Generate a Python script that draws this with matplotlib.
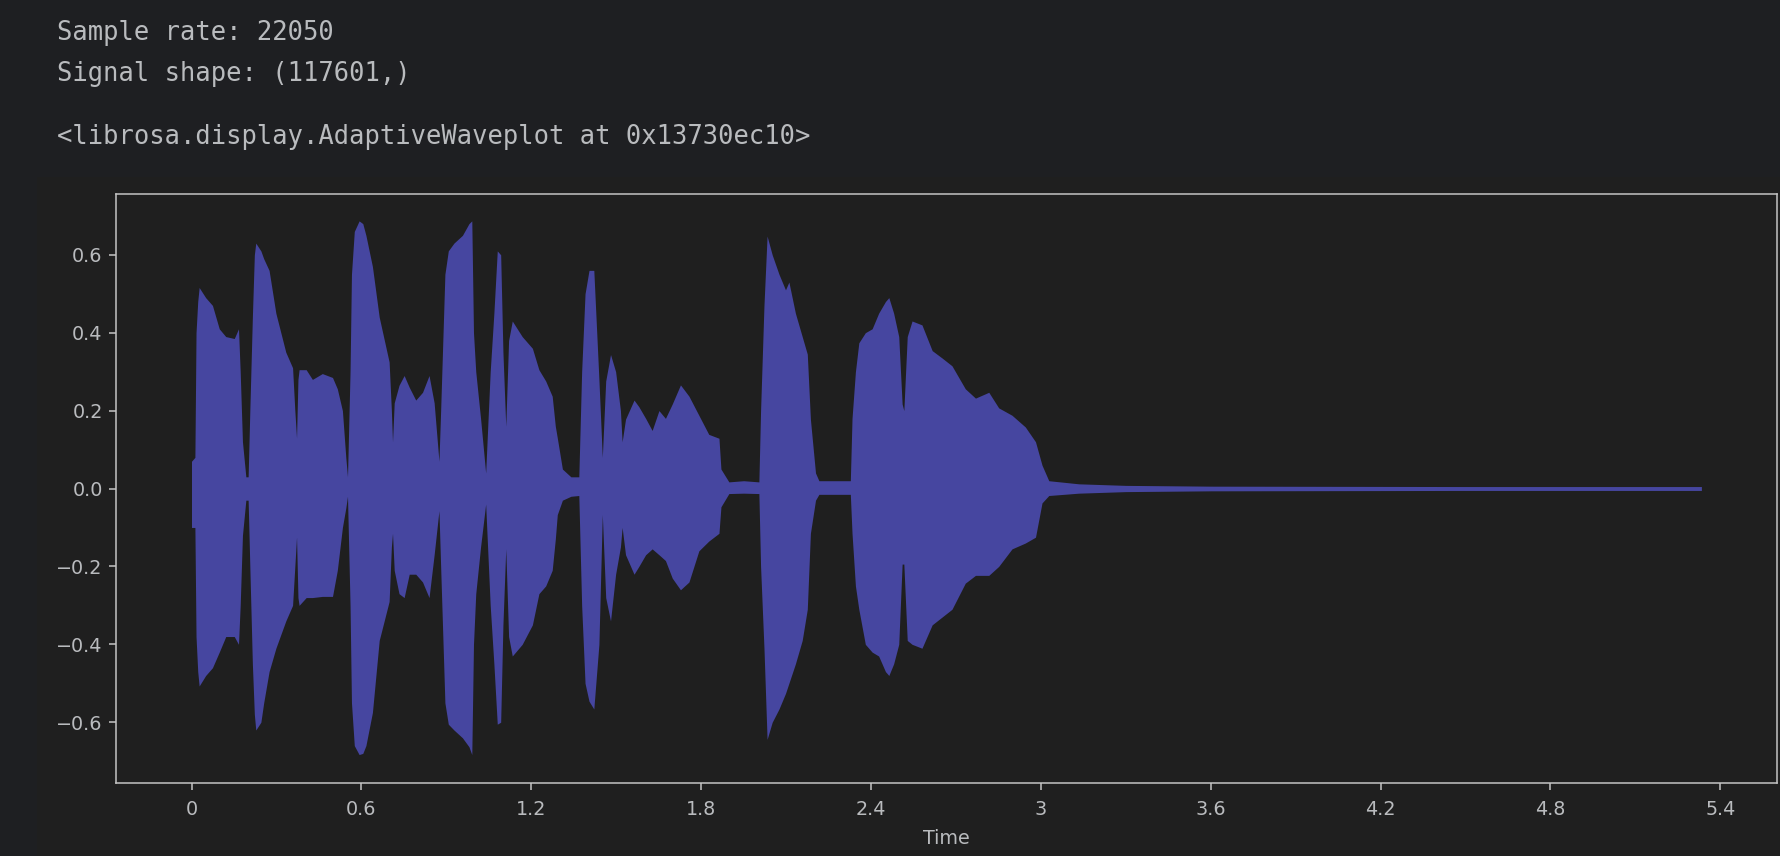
"""Waveform envelope of a short speech clip, drawn in a dark notebook style."""
import matplotlib; matplotlib.use("Agg")
import matplotlib.pyplot as plt
from matplotlib.patches import Rectangle

PAGE, PANEL, INK, SPINE, WAVE = "#1e1f22", "#1f1f1f", "#b9bbbe", "#c4c4c4", "#4646a0"

sample_rate = 22050
n_samples = 117601
header_lines = [
    f"Sample rate: {sample_rate}",
    f"Signal shape: ({n_samples},)",
    "<librosa.display.AdaptiveWaveplot at 0x13730ec10>",
]

# envelope of the waveform: time (s), upper and lower bound
t_env = [0.000, 0.012, 0.016, 0.022, 0.027, 0.050, 0.074, 0.098, 0.121, 0.151, 0.166, 0.172,
         0.180, 0.192, 0.200,
         0.206, 0.215, 0.222, 0.227, 0.245, 0.255, 0.274, 0.298, 0.333, 0.357, 0.365, 0.371,
         0.376, 0.380, 0.405, 0.427, 0.462, 0.498, 0.515, 0.533, 0.545, 0.551,
         0.560, 0.565, 0.575, 0.592, 0.605, 0.616, 0.639, 0.663, 0.698, 0.706, 0.710,
         0.716, 0.733, 0.751, 0.769, 0.792, 0.816, 0.839, 0.857, 0.874,
         0.880, 0.895, 0.907, 0.927, 0.957, 0.980, 0.990, 0.996, 1.004, 1.021, 1.039,
         1.055, 1.068, 1.080, 1.092, 1.100, 1.110,
         1.120, 1.133, 1.168, 1.204, 1.227, 1.251, 1.274, 1.285, 1.292, 1.310, 1.340, 1.368,
         1.378, 1.390, 1.404, 1.421, 1.439, 1.451,
         1.463, 1.480, 1.498, 1.515, 1.521, 1.533, 1.563, 1.580, 1.604, 1.627, 1.651, 1.674,
         1.698, 1.727, 1.757, 1.792, 1.827, 1.863, 1.870, 1.898, 1.950, 2.004,
         2.010, 2.022, 2.033, 2.051, 2.075, 2.098, 2.110, 2.133, 2.157, 2.175, 2.186, 2.204,
         2.216, 2.270, 2.327,
         2.333, 2.345, 2.357, 2.380, 2.404, 2.427, 2.451, 2.463, 2.480, 2.498, 2.510, 2.516,
         2.528, 2.545, 2.580, 2.616, 2.651, 2.686, 2.733, 2.769, 2.816, 2.851, 2.898, 2.945,
         2.981, 3.004, 3.028, 3.134, 3.300, 3.600, 4.500, 5.333]
upper = [0.07, 0.08, 0.40, 0.48, 0.516, 0.49, 0.47, 0.41, 0.39, 0.385, 0.41, 0.30,
         0.12, 0.03, 0.03,
         0.20, 0.44, 0.60, 0.63, 0.61, 0.59, 0.56, 0.45, 0.35, 0.31, 0.20, 0.13,
         0.28, 0.305, 0.305, 0.28, 0.295, 0.285, 0.256, 0.20, 0.08, 0.03,
         0.30, 0.55, 0.66, 0.687, 0.68, 0.65, 0.57, 0.44, 0.325, 0.20, 0.12,
         0.22, 0.265, 0.29, 0.26, 0.227, 0.247, 0.29, 0.22, 0.07,
         0.20, 0.55, 0.61, 0.63, 0.65, 0.68, 0.687, 0.40, 0.30, 0.18, 0.04,
         0.30, 0.45, 0.61, 0.60, 0.35, 0.16,
         0.38, 0.43, 0.39, 0.36, 0.305, 0.276, 0.237, 0.16, 0.13, 0.05, 0.03, 0.03,
         0.30, 0.50, 0.56, 0.56, 0.28, 0.08,
         0.276, 0.344, 0.30, 0.20, 0.12, 0.178, 0.227, 0.21, 0.18, 0.149, 0.20, 0.18,
         0.217, 0.266, 0.237, 0.188, 0.139, 0.129, 0.05, 0.017, 0.02, 0.017,
         0.20, 0.47, 0.648, 0.60, 0.55, 0.51, 0.53, 0.45, 0.39, 0.345, 0.178, 0.04,
         0.02, 0.02, 0.02,
         0.18, 0.30, 0.374, 0.40, 0.41, 0.45, 0.48, 0.49, 0.45, 0.39, 0.217, 0.20,
         0.39, 0.43, 0.42, 0.354, 0.335, 0.315, 0.256, 0.232, 0.247, 0.207, 0.188, 0.158,
         0.12, 0.06, 0.02, 0.012, 0.008, 0.006, 0.005, 0.005]
lower = [-0.10, -0.10, -0.38, -0.47, -0.507, -0.48, -0.46, -0.42, -0.38, -0.38, -0.40, -0.30,
         -0.12, -0.03, -0.03,
         -0.20, -0.45, -0.58, -0.62, -0.60, -0.55, -0.47, -0.41, -0.34, -0.30, -0.20, -0.125,
         -0.28, -0.30, -0.28, -0.28, -0.277, -0.277, -0.21, -0.10, -0.05, -0.02,
         -0.30, -0.55, -0.66, -0.683, -0.68, -0.66, -0.575, -0.39, -0.29, -0.15, -0.115,
         -0.21, -0.27, -0.28, -0.22, -0.22, -0.24, -0.28, -0.17, -0.057,
         -0.20, -0.55, -0.605, -0.62, -0.64, -0.663, -0.683, -0.40, -0.27, -0.15, -0.04,
         -0.30, -0.45, -0.605, -0.60, -0.35, -0.155,
         -0.38, -0.43, -0.40, -0.35, -0.27, -0.25, -0.21, -0.13, -0.067, -0.03, -0.02, -0.018,
         -0.30, -0.50, -0.546, -0.566, -0.40, -0.067,
         -0.28, -0.34, -0.22, -0.15, -0.10, -0.17, -0.22, -0.20, -0.17, -0.155, -0.17, -0.185,
         -0.23, -0.26, -0.24, -0.16, -0.135, -0.115, -0.047, -0.013, -0.012, -0.013,
         -0.20, -0.41, -0.644, -0.60, -0.566, -0.526, -0.50, -0.45, -0.39, -0.31, -0.115, -0.03,
         -0.015, -0.015, -0.015,
         -0.115, -0.25, -0.31, -0.40, -0.42, -0.43, -0.47, -0.48, -0.45, -0.40, -0.194, -0.194,
         -0.39, -0.40, -0.41, -0.35, -0.33, -0.31, -0.243, -0.223, -0.223, -0.20, -0.155, -0.14,
         -0.125, -0.037, -0.018, -0.012, -0.008, -0.006, -0.005, -0.005]

x_ticks = [0, 0.6, 1.2, 1.8, 2.4, 3.0, 3.6, 4.2, 4.8, 5.4]
x_labels = ["0", "0.6", "1.2", "1.8", "2.4", "3", "3.6", "4.2", "4.8", "5.4"]
y_ticks = [-0.6, -0.4, -0.2, 0.0, 0.2, 0.4, 0.6]


def main():
    W, H = 1780, 856
    fig = plt.figure(figsize=(W / 100, H / 100), dpi=100, facecolor=PAGE)
    # the rendered figure sits on the notebook page, a shade lighter
    fig.patches.append(Rectangle((37 / W, 0), 1 - 37 / W, 1 - 177 / H, transform=fig.transFigure,
                                 facecolor=PANEL, edgecolor="none", zorder=-5))

    for txt, yc in zip(header_lines, [33, 74, 137]):
        fig.text(57 / W, 1 - yc / H, txt, family="DejaVu Sans Mono", fontsize=18.4,
                 color=INK, va="center", ha="left")

    ax = fig.add_axes([116 / W, 1 - 783 / H, (1777 - 116) / W, (783 - 194) / H])
    ax.set_zorder(2)
    ax.set_facecolor(PANEL)
    ax.fill_between(t_env, lower, upper, color=WAVE, lw=0)

    dur = n_samples / sample_rate
    ax.set_xlim(-0.05 * dur, 1.05 * dur)
    ax.set_ylim(-0.756, 0.756)
    ax.set_xticks(x_ticks, x_labels)
    ax.set_yticks(y_ticks, [f"{v:.1f}".replace("-", "\u2212") for v in y_ticks])
    ax.set_xlabel("Time", color=INK, fontsize=13.8, labelpad=7)
    ax.tick_params(colors=SPINE, labelcolor=INK, labelsize=13.8, length=4.8, width=1.1, pad=4.8)
    ax.tick_params(axis="x", pad=7.5)
    for sp in ax.spines.values():
        sp.set_color(SPINE); sp.set_linewidth(1.1)

    fig.savefig("out.png", dpi=100, facecolor=PAGE)


if __name__ == "__main__":
    main()
